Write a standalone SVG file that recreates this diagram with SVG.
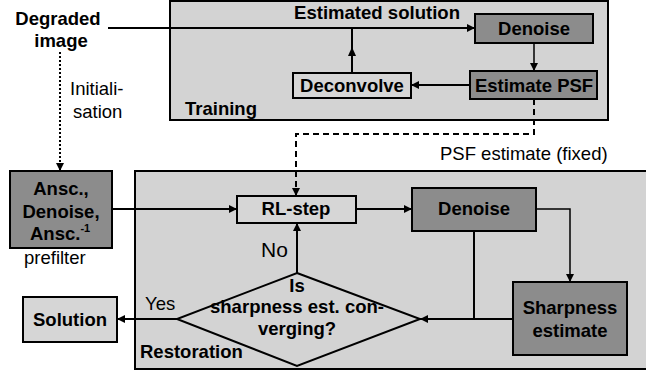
<svg xmlns="http://www.w3.org/2000/svg" width="646" height="374" viewBox="0 0 646 374">
<defs>
<style>
.frame{fill:#d3d3d3;stroke:#000;stroke-width:2}
.dark{fill:#8c8c8c;stroke:#000;stroke-width:2}
.light{fill:#d6d6d6;stroke:#000;stroke-width:2}
.b{font-family:"Liberation Sans",Arial,sans-serif;font-weight:bold;font-size:18.5px;fill:#000}
.r{font-family:"Liberation Sans",Arial,sans-serif;font-size:18.5px;fill:#000}
.c{text-anchor:middle}
.ln{fill:none;stroke:#000;stroke-width:2}
</style>
<marker id="ah" viewBox="0 0 10 10" refX="10" refY="5" markerWidth="9" markerHeight="8" markerUnits="userSpaceOnUse" orient="auto">
<path d="M0,0 L10,5 L0,10 z" fill="#000"/>
</marker>
</defs>
<rect width="646" height="374" fill="#fff"/>
<g id="training">
<rect class="frame" x="170" y="1" width="438" height="119"/>
<text class="b" x="185" y="115">Training</text>
<text class="b" x="294" y="19" textLength="166" lengthAdjust="spacingAndGlyphs">Estimated solution</text>
</g>
<g id="restoration">
<rect class="frame" x="135" y="171" width="520" height="198"/>
<text class="b" x="140" y="358">Restoration</text>
</g>
<g id="degraded">
<text class="b c" x="58" y="25">Degraded</text>
<text class="b c" x="61" y="47">image</text>
</g>
<g id="denoise-top">
<rect class="dark" x="475" y="14" width="118" height="29"/>
<text class="b c" x="534" y="35">Denoise</text>
</g>
<g id="estimate-psf">
<rect class="dark" x="470" y="71" width="127" height="28"/>
<text class="b c" x="534" y="92">Estimate PSF</text>
</g>
<g id="deconvolve">
<rect class="light" x="293" y="73" width="118" height="25"/>
<text class="b c" x="352" y="92">Deconvolve</text>
</g>
<g id="prefilter">
<rect class="dark" x="10" y="171" width="102" height="77"/>
<text class="b c" x="61" y="195">Ansc.,</text>
<text class="b c" x="61" y="218">Denoise,</text>
<text class="b" x="30" y="240">Ansc.<tspan style="font-size:11px" dy="-8">-1</tspan></text>
<text class="r" x="24" y="264">prefilter</text>
</g>
<g id="rl-step">
<rect class="light" x="237" y="196" width="119" height="27"/>
<text class="b c" x="296" y="215">RL-step</text>
</g>
<g id="denoise-bottom">
<rect class="dark" x="412" y="188" width="124" height="43"/>
<text class="b c" x="474" y="215">Denoise</text>
</g>
<g id="sharpness">
<rect class="dark" x="513" y="282" width="114" height="73"/>
<text class="b c" x="570" y="314">Sharpness</text>
<text class="b c" x="570" y="337">estimate</text>
</g>
<g id="decision">
<polygon points="297,273 420,319 297,366 177,319" fill="#d3d3d3" stroke="#000" stroke-width="2"/>
<text class="b c" x="297" y="292">Is</text>
<text class="b c" x="297" y="313" textLength="174" lengthAdjust="spacingAndGlyphs">sharpness est. con-</text>
<text class="b c" x="297" y="335">verging?</text>
</g>
<g id="solution">
<rect class="light" x="23" y="297" width="94" height="45"/>
<text class="b c" x="70" y="326">Solution</text>
</g>
<g id="connectors">
<path class="ln" d="M108,28 H475" marker-end="url(#ah)"/>
<path class="ln" d="M352,73 V28"/>
<path d="M352,47 L356,56 L348,56 z" fill="#000"/>
<path class="ln" d="M534,43 V71" marker-end="url(#ah)" style="stroke-width:1.5"/>
<path class="ln" d="M470,85 H411" marker-end="url(#ah)"/>
<path class="ln" d="M534,99 V134 H296 V196" stroke-dasharray="6,4" marker-end="url(#ah)"/>
<path class="ln" d="M60,52 V171" stroke-dasharray="2,2" marker-end="url(#ah)"/>
<path class="ln" d="M112,209 H237" marker-end="url(#ah)"/>
<path class="ln" d="M356,209 H412" marker-end="url(#ah)"/>
<path class="ln" d="M536,209 H570 V282" marker-end="url(#ah)" style="stroke-width:1.5"/>
<path class="ln" d="M474,231 V319"/>
<path class="ln" d="M513,319 H420" marker-end="url(#ah)"/>
<path class="ln" d="M297,273 V223" marker-end="url(#ah)"/>
<path class="ln" d="M177,319 H117" marker-end="url(#ah)"/>
<text class="r" x="70" y="95">Initiali-</text>
<text class="r" x="73" y="118">sation</text>
<text class="r" x="440" y="160">PSF estimate (fixed)</text>
<text class="r" x="261" y="257" style="font-size:21px">No</text>
<text class="r" x="145" y="310">Yes</text>
</g>
</svg>
